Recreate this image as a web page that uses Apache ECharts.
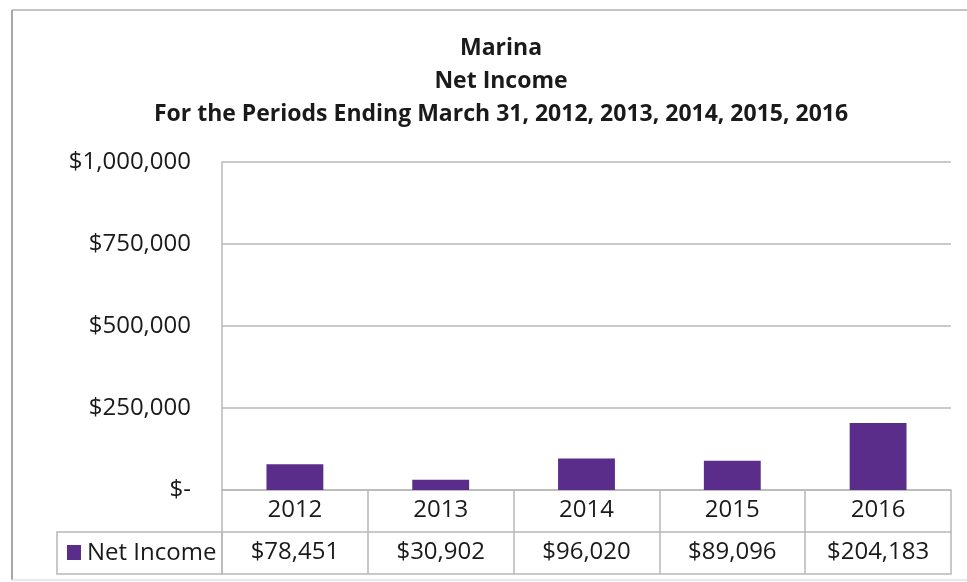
<!DOCTYPE html>
<html>
<head>
<meta charset="utf-8">
<title>Marina Net Income</title>
<script src="https://cdn.jsdelivr.net/npm/echarts@6/dist/echarts.min.js"></script>
<style>
  html, body { margin: 0; padding: 0; background: #ffffff; }
  #chart { width: 967px; height: 582px; }
</style>
</head>
<body>
<div id="chart"></div>
<script>
// Fiscal years (periods ending March 31)
const years = ['2012', '2013', '2014', '2015', '2016'];
// Net income per year, in dollars
const netIncome = [78451, 30902, 96020, 89096, 204183];
// Value axis ticks
const yTicks = [0, 250000, 500000, 750000, 1000000];
const seriesName = 'Net Income';
const titleLines = ['Marina', 'Net Income', 'For the Periods Ending March 31, 2012, 2013, 2014, 2015, 2016'];

const FONT = '"Open Sans", "Noto Sans", sans-serif';
const GRID_LINE = '#b8b8b8';
const BAR_COLOR = '#5b2d8b';
const TEXT = '#1a1a1a';
const LABEL_SIZE = 24;

const W = 967, H = 582;
const grid = { left: 222, right: 16, top: 162, bottom: 92 };
const rowH = 42;          // height of the year row / value row
const legendLeft = 57;    // left edge of the legend cell
const titleCenterX = 496; // title block is centred over the whole chart frame

function money(v) {
  if (v === 0) return '$-';
  return '$' + v.toLocaleString('en-US');
}

const chart = echarts.init(document.getElementById('chart'), null, { renderer: 'canvas' });

const axisY = H - grid.bottom;

const option = {
  animation: false,
  backgroundColor: '#ffffff',
  title: {
    text: titleLines.join('\n'),
    left: titleCenterX,
    textAlign: 'center',
    top: 27,
    textStyle: {
      fontFamily: FONT,
      fontSize: 23,
      fontWeight: 'bold',
      color: TEXT,
      lineHeight: 33
    }
  },
  grid: grid,
  xAxis: [
    {
      type: 'category',
      data: years,
      position: 'bottom',
      axisLine: { show: true, lineStyle: { color: GRID_LINE, width: 1.5 } },
      axisTick: { show: true, length: rowH * 2, lineStyle: { color: GRID_LINE, width: 1.5 } },
      axisLabel: { fontFamily: FONT, fontSize: LABEL_SIZE, color: TEXT, margin: 8 }
    },
    {
      type: 'category',
      data: netIncome.map(money),
      position: 'bottom',
      offset: rowH,
      axisLine: { show: true, lineStyle: { color: GRID_LINE, width: 1.5 } },
      axisTick: { show: false },
      axisLabel: { fontFamily: FONT, fontSize: LABEL_SIZE, color: TEXT, margin: 8 }
    },
    {
      type: 'category',
      data: years,
      position: 'bottom',
      offset: rowH * 2,
      axisLine: { show: true, lineStyle: { color: GRID_LINE, width: 1.5 } },
      axisTick: { show: false },
      axisLabel: { show: false }
    }
  ],
  yAxis: {
    type: 'value',
    min: yTicks[0],
    max: yTicks[yTicks.length - 1],
    interval: yTicks[1] - yTicks[0],
    axisLine: { show: true, lineStyle: { color: GRID_LINE, width: 1.5 } },
    axisTick: { show: false },
    splitLine: { show: true, lineStyle: { color: GRID_LINE, width: 1.5 } },
    axisLabel: {
      fontFamily: FONT,
      fontSize: LABEL_SIZE,
      color: TEXT,
      margin: 31,
      formatter: money
    }
  },
  series: [
    {
      name: seriesName,
      type: 'bar',
      xAxisIndex: 0,
      data: netIncome,
      barWidth: '39%',
      itemStyle: { color: BAR_COLOR }
    }
  ],
  graphic: [
    // outer chart frame
    { type: 'line', shape: { x1: 12, y1: 10, x2: W, y2: 10 }, style: { stroke: '#c4c4c4', lineWidth: 2 } },
    { type: 'line', shape: { x1: 12, y1: 10, x2: 12, y2: 580 }, style: { stroke: '#a8a8a8', lineWidth: 2 } },
    { type: 'line', shape: { x1: 12, y1: 580, x2: W, y2: 580 }, style: { stroke: '#e2e2e2', lineWidth: 1.5 } },
    // legend key cell of the data table
    {
      type: 'rect',
      shape: { x: legendLeft, y: axisY + rowH, width: grid.left - legendLeft, height: rowH },
      style: { fill: 'none', stroke: GRID_LINE, lineWidth: 1.5 }
    },
    {
      type: 'rect',
      shape: { x: legendLeft + 10, y: axisY + rowH + 13, width: 14, height: 15 },
      style: { fill: BAR_COLOR }
    },
    {
      type: 'text',
      x: legendLeft + 30,
      y: axisY + rowH + rowH / 2,
      style: {
        text: seriesName,
        fontFamily: FONT,
        fontSize: LABEL_SIZE,
        fill: TEXT,
        textVerticalAlign: 'middle',
        verticalAlign: 'middle'
      }
    }
  ]
};

chart.setOption(option);
</script>
</body>
</html>
